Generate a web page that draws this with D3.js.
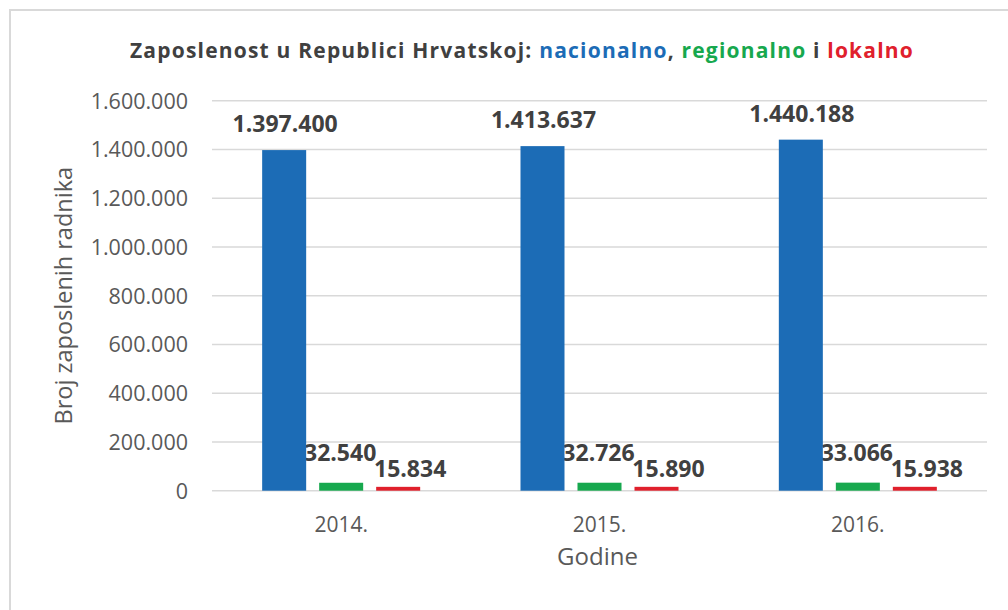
<!DOCTYPE html>
<html>
<head>
<meta charset="utf-8">
<script src="https://cdn.jsdelivr.net/npm/d3@7"></script>
<style>
  body { margin: 0; background: #fff; }
  svg { display: block; font-family: "Open Sans", sans-serif; }
</style>
</head>
<body>
<svg id="chart" width="1008" height="610"></svg>
<script>
// data
const years = ['2014.', '2015.', '2016.'];
const seriesNames = ['nacionalno', 'regionalno', 'lokalno'];
const nacionalno = [1397400, 1413637, 1440188];
const regionalno = [32540, 32726, 33066];
const lokalno = [15834, 15890, 15938];
const yTicks = [0, 200000, 400000, 600000, 800000, 1000000, 1200000, 1400000, 1600000];

const colors = { nacionalno: '#1c6cb6', regionalno: '#17a84e', lokalno: '#e0202c' };
// how far each series label sits above its bar (px) and sideways nudge
const labelDy = { nacionalno: 18, regionalno: 22, lokalno: 10 };
const labelDx = { nacionalno: 1, regionalno: -1, lokalno: 12 };

const rows = years.map((y, i) => ({
    year: y,
    values: [
        { key: 'nacionalno', v: nacionalno[i] },
        { key: 'regionalno', v: regionalno[i] },
        { key: 'lokalno', v: lokalno[i] }
    ]
}));

const fmt = d3.formatLocale({ decimal: ',', thousands: '.', grouping: [3], currency: ['', ''] }).format(',d');

const svg = d3.select('#chart');
const plotLeft = 212, plotRight = 987, plotTop = 100.7, plotBottom = 490.7;

// frame
svg.append('rect')
    .attr('x', 10).attr('y', 10).attr('width', 1010).attr('height', 620)
    .attr('fill', 'none').attr('stroke', '#d9d9d9').attr('stroke-width', 2);

let y = d3.scaleLinear().domain([0, 1600000]).range([plotBottom, plotTop]);
let x0 = d3.scaleBand().domain(years).range([plotLeft, plotRight]).padding(0);
let x1 = d3.scaleBand().domain(seriesNames).range([0, x0.bandwidth()])
    .paddingInner(0.228).paddingOuter(0.88);

// grid
svg.append('g').selectAll('line')
    .data(yTicks)
    .enter().append('line')
    .attr('x1', plotLeft).attr('x2', plotRight)
    .attr('y1', d => y(d)).attr('y2', d => y(d))
    .attr('stroke', '#d9d9d9').attr('stroke-width', 1.5);

// y axis labels
let yAxis = svg.append('g')
    .attr('transform', `translate(${plotLeft - 24},0)`)
    .call(d3.axisLeft(y).tickValues(yTicks).tickFormat(d => d === 0 ? '0' : fmt(d)).tickSize(0).tickPadding(0));
yAxis.select('.domain').remove();
yAxis.selectAll('text')
    .attr('font-family', '"Open Sans", sans-serif')
    .attr('font-size', 21.5).attr('fill', '#595959').attr('dy', '0.35em');

// x axis labels
let xAxis = svg.append('g')
    .attr('transform', `translate(0,${plotBottom})`)
    .call(d3.axisBottom(x0).tickSize(0).tickPadding(0));
xAxis.select('.domain').remove();
xAxis.selectAll('text')
    .attr('font-family', '"Open Sans", sans-serif')
    .attr('font-size', 21).attr('fill', '#595959').attr('dy', 0).attr('y', 41);

// bars (labels first so the blue bar clips the green label as in the original)
let groups = svg.append('g').selectAll('g')
    .data(rows)
    .enter().append('g')
    .attr('transform', d => `translate(${x0(d.year)},0)`);

groups.selectAll('text')
    .data(d => d.values)
    .enter().append('text')
    .attr('x', d => x1(d.key) + x1.bandwidth() / 2 + labelDx[d.key])
    .attr('y', d => y(d.v) - labelDy[d.key])
    .attr('text-anchor', 'middle')
    .attr('font-size', 23).attr('font-weight', 700).attr('fill', '#404040')
    .text(d => fmt(d.v));

groups.selectAll('rect')
    .data(d => d.values)
    .enter().append('rect')
    .attr('x', d => x1(d.key))
    .attr('width', x1.bandwidth())
    .attr('y', d => y(d.v))
    .attr('height', d => plotBottom - y(d.v))
    .attr('fill', d => colors[d.key]);

// axis titles
svg.append('text')
    .attr('transform', `translate(72,${(plotTop + plotBottom) / 2}) rotate(-90)`)
    .attr('text-anchor', 'middle')
    .attr('font-size', 23.5).attr('fill', '#595959')
    .text('Broj zaposlenih radnika');

svg.append('text')
    .attr('x', (plotLeft + plotRight) / 2 - 2).attr('y', 565)
    .attr('text-anchor', 'middle')
    .attr('font-size', 24).attr('fill', '#595959')
    .text('Godine');

// title with coloured words
let title = svg.append('text')
    .attr('x', 522).attr('y', 58)
    .attr('text-anchor', 'middle')
    .attr('font-size', 21).attr('font-weight', 700).attr('fill', '#404040')
    .attr('letter-spacing', 1.2);
title.append('tspan').text('Zaposlenost u Republici Hrvatskoj: ');
title.append('tspan').attr('fill', colors.nacionalno).text('nacionalno');
title.append('tspan').text(', ');
title.append('tspan').attr('fill', colors.regionalno).text('regionalno');
title.append('tspan').text(' i ');
title.append('tspan').attr('fill', colors.lokalno).text('lokalno');
</script>
</body>
</html>
